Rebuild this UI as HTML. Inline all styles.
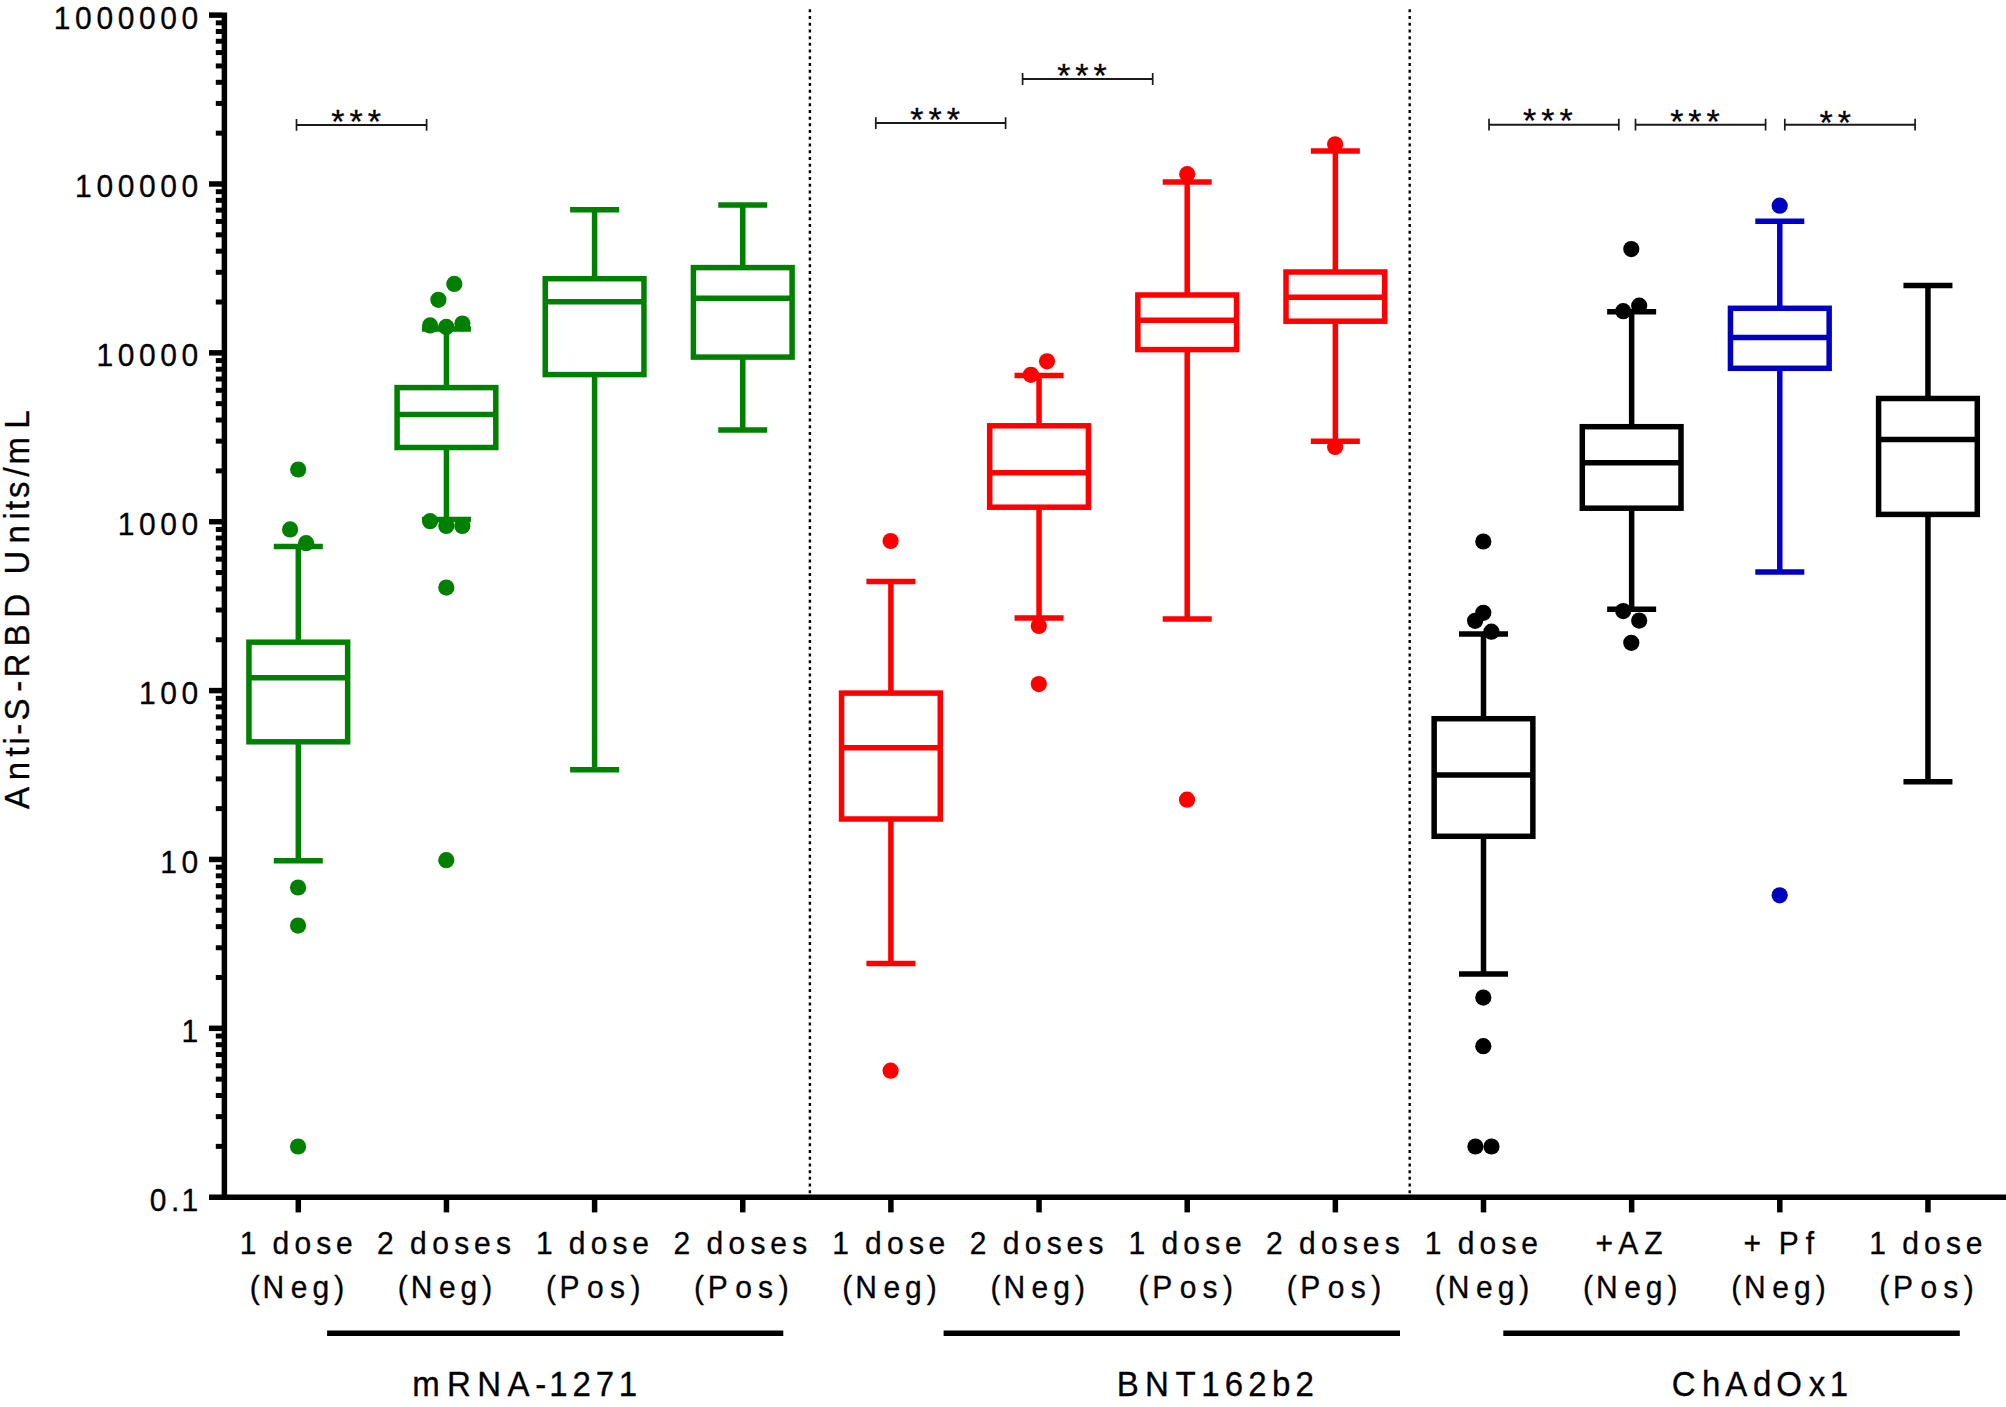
<!DOCTYPE html>
<html lang="en"><head><meta charset="utf-8"><title>Anti-S-RBD antibody levels by vaccine</title>
<style>html,body{margin:0;padding:0;background:#fff}svg{display:block}</style></head>
<body>
<svg width="2006" height="1407" viewBox="0 0 2006 1407" font-family="'Liberation Sans', Arial, sans-serif" fill="#000">
<style>text{stroke:#000;stroke-width:0.3px}</style>
<rect width="2006" height="1407" fill="#fff"/>
<line x1="809.9" y1="9.3" x2="809.9" y2="1193.6" stroke="#000" stroke-width="2.4" stroke-dasharray="3 3.71"/>
<line x1="1409.7" y1="9.3" x2="1409.7" y2="1193.6" stroke="#000" stroke-width="2.4" stroke-dasharray="3 3.71"/>
<g stroke="#000" stroke-width="5.5" fill="none">
<line x1="224.4" y1="12.4" x2="224.4" y2="1199.9"/>
<line x1="209" y1="1197.2" x2="2006" y2="1197.2"/>
<line x1="209" y1="1028.33" x2="222" y2="1028.33"/>
<line x1="209" y1="859.46" x2="222" y2="859.46"/>
<line x1="209" y1="690.59" x2="222" y2="690.59"/>
<line x1="209" y1="521.72" x2="222" y2="521.72"/>
<line x1="209" y1="352.85" x2="222" y2="352.85"/>
<line x1="209" y1="183.98" x2="222" y2="183.98"/>
<line x1="209" y1="15.11" x2="222" y2="15.11"/>
</g>
<g stroke="#000" stroke-width="5.0" fill="none">
<line x1="215.8" y1="1146.37" x2="222" y2="1146.37"/>
<line x1="215.8" y1="1116.63" x2="222" y2="1116.63"/>
<line x1="215.8" y1="1095.53" x2="222" y2="1095.53"/>
<line x1="215.8" y1="1079.16" x2="222" y2="1079.16"/>
<line x1="215.8" y1="1065.79" x2="222" y2="1065.79"/>
<line x1="215.8" y1="1054.49" x2="222" y2="1054.49"/>
<line x1="215.8" y1="1044.70" x2="222" y2="1044.70"/>
<line x1="215.8" y1="1036.06" x2="222" y2="1036.06"/>
<line x1="215.8" y1="977.50" x2="222" y2="977.50"/>
<line x1="215.8" y1="947.76" x2="222" y2="947.76"/>
<line x1="215.8" y1="926.66" x2="222" y2="926.66"/>
<line x1="215.8" y1="910.29" x2="222" y2="910.29"/>
<line x1="215.8" y1="896.92" x2="222" y2="896.92"/>
<line x1="215.8" y1="885.62" x2="222" y2="885.62"/>
<line x1="215.8" y1="875.83" x2="222" y2="875.83"/>
<line x1="215.8" y1="867.19" x2="222" y2="867.19"/>
<line x1="215.8" y1="808.63" x2="222" y2="808.63"/>
<line x1="215.8" y1="778.89" x2="222" y2="778.89"/>
<line x1="215.8" y1="757.79" x2="222" y2="757.79"/>
<line x1="215.8" y1="741.42" x2="222" y2="741.42"/>
<line x1="215.8" y1="728.05" x2="222" y2="728.05"/>
<line x1="215.8" y1="716.75" x2="222" y2="716.75"/>
<line x1="215.8" y1="706.96" x2="222" y2="706.96"/>
<line x1="215.8" y1="698.32" x2="222" y2="698.32"/>
<line x1="215.8" y1="639.76" x2="222" y2="639.76"/>
<line x1="215.8" y1="610.02" x2="222" y2="610.02"/>
<line x1="215.8" y1="588.92" x2="222" y2="588.92"/>
<line x1="215.8" y1="572.55" x2="222" y2="572.55"/>
<line x1="215.8" y1="559.18" x2="222" y2="559.18"/>
<line x1="215.8" y1="547.88" x2="222" y2="547.88"/>
<line x1="215.8" y1="538.09" x2="222" y2="538.09"/>
<line x1="215.8" y1="529.45" x2="222" y2="529.45"/>
<line x1="215.8" y1="470.89" x2="222" y2="470.89"/>
<line x1="215.8" y1="441.15" x2="222" y2="441.15"/>
<line x1="215.8" y1="420.05" x2="222" y2="420.05"/>
<line x1="215.8" y1="403.68" x2="222" y2="403.68"/>
<line x1="215.8" y1="390.31" x2="222" y2="390.31"/>
<line x1="215.8" y1="379.01" x2="222" y2="379.01"/>
<line x1="215.8" y1="369.22" x2="222" y2="369.22"/>
<line x1="215.8" y1="360.58" x2="222" y2="360.58"/>
<line x1="215.8" y1="302.02" x2="222" y2="302.02"/>
<line x1="215.8" y1="272.28" x2="222" y2="272.28"/>
<line x1="215.8" y1="251.18" x2="222" y2="251.18"/>
<line x1="215.8" y1="234.81" x2="222" y2="234.81"/>
<line x1="215.8" y1="221.44" x2="222" y2="221.44"/>
<line x1="215.8" y1="210.14" x2="222" y2="210.14"/>
<line x1="215.8" y1="200.35" x2="222" y2="200.35"/>
<line x1="215.8" y1="191.71" x2="222" y2="191.71"/>
<line x1="215.8" y1="133.15" x2="222" y2="133.15"/>
<line x1="215.8" y1="103.41" x2="222" y2="103.41"/>
<line x1="215.8" y1="82.31" x2="222" y2="82.31"/>
<line x1="215.8" y1="65.94" x2="222" y2="65.94"/>
<line x1="215.8" y1="52.57" x2="222" y2="52.57"/>
<line x1="215.8" y1="41.27" x2="222" y2="41.27"/>
<line x1="215.8" y1="31.48" x2="222" y2="31.48"/>
<line x1="215.8" y1="22.84" x2="222" y2="22.84"/>
</g>
<g stroke="#000" stroke-width="5.5">
<line x1="298.30" y1="1197" x2="298.30" y2="1212.4"/>
<line x1="446.45" y1="1197" x2="446.45" y2="1212.4"/>
<line x1="594.60" y1="1197" x2="594.60" y2="1212.4"/>
<line x1="742.75" y1="1197" x2="742.75" y2="1212.4"/>
<line x1="890.90" y1="1197" x2="890.90" y2="1212.4"/>
<line x1="1039.05" y1="1197" x2="1039.05" y2="1212.4"/>
<line x1="1187.20" y1="1197" x2="1187.20" y2="1212.4"/>
<line x1="1335.35" y1="1197" x2="1335.35" y2="1212.4"/>
<line x1="1483.50" y1="1197" x2="1483.50" y2="1212.4"/>
<line x1="1631.65" y1="1197" x2="1631.65" y2="1212.4"/>
<line x1="1779.80" y1="1197" x2="1779.80" y2="1212.4"/>
<line x1="1927.95" y1="1197" x2="1927.95" y2="1212.4"/>
</g>
<g font-size="30">
<text transform="translate(0 1210.70) scale(1 1.04)" x="149.67 170.97 181.60" y="0">0.1</text>
<text transform="translate(0 1041.83) scale(1 1.04)" x="181.60" y="0">1</text>
<text transform="translate(0 872.96) scale(1 1.04)" x="160.31 181.60" y="0">10</text>
<text transform="translate(0 704.09) scale(1 1.04)" x="139.01 160.31 181.60" y="0">100</text>
<text transform="translate(0 535.22) scale(1 1.04)" x="117.72 139.01 160.31 181.60" y="0">1000</text>
<text transform="translate(0 366.35) scale(1 1.04)" x="96.42 117.72 139.01 160.31 181.60" y="0">10000</text>
<text transform="translate(0 197.48) scale(1 1.04)" x="75.12 96.42 117.72 139.01 160.31 181.60" y="0">100000</text>
<text transform="translate(0 28.61) scale(1 1.04)" x="53.83 75.12 96.42 117.72 139.01 160.31 181.60" y="0">1000000</text>
</g>
<g font-size="30">
<text transform="translate(0 1254.10) scale(1 1.04)" x="239.66 261.57 272.51 294.41 316.31 336.00" y="0">1 dose</text>
<text transform="translate(0 1297.80) scale(1 1.04)" x="249.64 262.63 290.79 312.48 334.17" y="0">(Neg)</text>
<text transform="translate(0 1254.10) scale(1 1.04)" x="377.09 399.11 410.12 432.14 454.16 473.96 495.98" y="0">2 doses</text>
<text transform="translate(0 1297.80) scale(1 1.04)" x="397.79 410.78 438.94 460.63 482.32" y="0">(Neg)</text>
<text transform="translate(0 1254.10) scale(1 1.04)" x="535.96 557.87 568.81 590.71 612.61 632.30" y="0">1 dose</text>
<text transform="translate(0 1297.80) scale(1 1.04)" x="545.89 559.60 587.05 609.94 630.52" y="0">(Pos)</text>
<text transform="translate(0 1254.10) scale(1 1.04)" x="673.39 695.41 706.42 728.44 750.46 770.26 792.28" y="0">2 doses</text>
<text transform="translate(0 1297.80) scale(1 1.04)" x="694.04 707.75 735.20 758.09 778.67" y="0">(Pos)</text>
<text transform="translate(0 1254.10) scale(1 1.04)" x="832.26 854.17 865.11 887.01 908.91 928.60" y="0">1 dose</text>
<text transform="translate(0 1297.80) scale(1 1.04)" x="842.24 855.23 883.39 905.08 926.77" y="0">(Neg)</text>
<text transform="translate(0 1254.10) scale(1 1.04)" x="969.69 991.71 1002.72 1024.74 1046.76 1066.56 1088.58" y="0">2 doses</text>
<text transform="translate(0 1297.80) scale(1 1.04)" x="990.39 1003.38 1031.54 1053.23 1074.92" y="0">(Neg)</text>
<text transform="translate(0 1254.10) scale(1 1.04)" x="1128.56 1150.47 1161.41 1183.31 1205.21 1224.90" y="0">1 dose</text>
<text transform="translate(0 1297.80) scale(1 1.04)" x="1138.49 1152.20 1179.65 1202.54 1223.12" y="0">(Pos)</text>
<text transform="translate(0 1254.10) scale(1 1.04)" x="1265.99 1288.01 1299.02 1321.04 1343.06 1362.86 1384.88" y="0">2 doses</text>
<text transform="translate(0 1297.80) scale(1 1.04)" x="1286.64 1300.35 1327.80 1350.69 1371.27" y="0">(Pos)</text>
<text transform="translate(0 1254.10) scale(1 1.04)" x="1424.86 1446.77 1457.71 1479.61 1501.51 1521.20" y="0">1 dose</text>
<text transform="translate(0 1297.80) scale(1 1.04)" x="1434.84 1447.83 1475.99 1497.68 1519.37" y="0">(Neg)</text>
<text transform="translate(0 1254.10) scale(1 1.04)" x="1595.54 1618.31 1644.31" y="0">+AZ</text>
<text transform="translate(0 1297.80) scale(1 1.04)" x="1582.99 1595.98 1624.14 1645.83 1667.52" y="0">(Neg)</text>
<text transform="translate(0 1254.10) scale(1 1.04)" x="1743.54 1767.33 1778.65 1805.82" y="0">+ Pf</text>
<text transform="translate(0 1297.80) scale(1 1.04)" x="1731.14 1744.13 1772.29 1793.98 1815.67" y="0">(Neg)</text>
<text transform="translate(0 1254.10) scale(1 1.04)" x="1869.31 1891.22 1902.16 1924.06 1945.96 1965.65" y="0">1 dose</text>
<text transform="translate(0 1297.80) scale(1 1.04)" x="1879.24 1892.95 1920.40 1943.29 1963.87" y="0">(Pos)</text>
</g>
<g stroke="#000" stroke-width="5.4">
<line x1="327.1" y1="1333.3" x2="783.3" y2="1333.3"/>
<line x1="943.6" y1="1333.3" x2="1400.0" y2="1333.3"/>
<line x1="1503.3" y1="1333.3" x2="1959.8" y2="1333.3"/>
</g>
<g font-size="33">
<text transform="translate(0 1395.80) scale(1 1.04)" x="412.31 447.10 477.26 507.42 535.27 549.18 572.41 595.63 618.86" y="0">mRNA-1271</text>
<text transform="translate(0 1395.80) scale(1 1.04)" x="1116.69 1144.91 1175.46 1201.30 1224.83 1248.35 1271.88 1295.41" y="0">BNT162b2</text>
<text transform="translate(0 1395.80) scale(1 1.04)" x="1671.72 1701.92 1725.18 1753.07 1776.32 1808.85 1829.76" y="0">ChAdOx1</text>
</g>
<g font-size="33"><text transform="translate(29.2 809.0) rotate(-90) translate(0 0.00) scale(1 1.04)" x="-0.06 28.66 52.60 64.57 74.13 88.47 117.19 131.53 162.63 191.35 222.44 234.41 265.50 289.45 299.02 310.98 332.51 344.47 380.34" y="0">Anti-S-RBD Units/mL</text></g>
<g stroke="#1a1a1a" stroke-width="2" fill="none">
<path d="M296.5 124.9H426.6"/><path stroke-width="1.7" d="M296.5 119.0V130.8M426.6 119.0V130.8"/>
<path d="M875.8 123.1H1005.6"/><path stroke-width="1.7" d="M875.8 117.19999999999999V129.0M1005.6 117.19999999999999V129.0"/>
<path d="M1022.6 79.0H1152.7"/><path stroke-width="1.7" d="M1022.6 73.1V84.9M1152.7 73.1V84.9"/>
<path d="M1489.0 124.7H1618.8"/><path stroke-width="1.7" d="M1489.0 118.8V130.6M1618.8 118.8V130.6"/>
<path d="M1635.5 124.7H1765.6"/><path stroke-width="1.7" d="M1635.5 118.8V130.6M1765.6 118.8V130.6"/>
<path d="M1784.8 124.7H1915.1"/><path stroke-width="1.7" d="M1784.8 118.8V130.6M1915.1 118.8V130.6"/>
</g>
<g font-size="34" letter-spacing="5" text-anchor="middle" stroke="#000" stroke-width="0.4">
<text x="358.7" y="133.4">***</text>
<text x="937.7" y="131.4">***</text>
<text x="1084.5" y="87.3">***</text>
<text x="1550.4" y="131.5">***</text>
<text x="1697.5" y="132.6">***</text>
<text x="1837.7" y="133.6">**</text>
</g>
<g stroke="#008000" fill="none" stroke-width="5.5">
<path stroke-width="5.5" d="M298.30 546.4V642.2M298.30 741.8V860.8"/>
<path d="M273.80 546.4H322.80M273.80 860.8H322.80"/>
<rect x="248.95" y="642.2" width="98.70" height="99.60" fill="#fff"/>
<line x1="248.95" y1="677.8" x2="347.65" y2="677.8"/>
</g>
<g fill="#008000"><circle cx="298.2" cy="469.5" r="8.1"/><circle cx="290.1" cy="529.4" r="8.1"/><circle cx="306.1" cy="543.2" r="8.1"/><circle cx="298.05" cy="887.5" r="8.1"/><circle cx="298.05" cy="925.6" r="8.1"/><circle cx="298.05" cy="1146.5" r="8.1"/></g>
<g stroke="#008000" fill="none" stroke-width="5.5">
<path stroke-width="5.5" d="M446.45 329.0V387.6M446.45 447.5V519.5"/>
<path d="M421.95 329.0H470.95M421.95 519.5H470.95"/>
<rect x="397.10" y="387.6" width="98.70" height="59.90" fill="#fff"/>
<line x1="397.10" y1="414.5" x2="495.80" y2="414.5"/>
</g>
<g fill="#008000"><circle cx="454.3" cy="283.9" r="8.1"/><circle cx="438.4" cy="299.8" r="8.1"/><circle cx="430.1" cy="325.4" r="8.1"/><circle cx="446.3" cy="326.9" r="8.1"/><circle cx="462.4" cy="323.6" r="8.1"/><circle cx="430.1" cy="521.2" r="8.1"/><circle cx="446.3" cy="526" r="8.1"/><circle cx="462.3" cy="526" r="8.1"/><circle cx="446.3" cy="587.6" r="8.1"/><circle cx="446.3" cy="860.2" r="8.1"/></g>
<g stroke="#008000" fill="none" stroke-width="5.5">
<path stroke-width="5.5" d="M594.60 209.8V278.7M594.60 374.6V769.8"/>
<path d="M570.10 209.8H619.10M570.10 769.8H619.10"/>
<rect x="545.25" y="278.7" width="98.70" height="95.90" fill="#fff"/>
<line x1="545.25" y1="301.7" x2="643.95" y2="301.7"/>
</g>
<g stroke="#008000" fill="none" stroke-width="5.5">
<path stroke-width="5.5" d="M742.75 204.9V267.6M742.75 357.1V430.1"/>
<path d="M718.25 204.9H767.25M718.25 430.1H767.25"/>
<rect x="693.40" y="267.6" width="98.70" height="89.50" fill="#fff"/>
<line x1="693.40" y1="298.3" x2="792.10" y2="298.3"/>
</g>
<g stroke="#ff0000" fill="none" stroke-width="5.5">
<path stroke-width="5.5" d="M890.90 581.5V693.1M890.90 819.0V963.5"/>
<path d="M866.40 581.5H915.40M866.40 963.5H915.40"/>
<rect x="841.55" y="693.1" width="98.70" height="125.90" fill="#fff"/>
<line x1="841.55" y1="747.7" x2="940.25" y2="747.7"/>
</g>
<g fill="#ff0000"><circle cx="890.6" cy="541.0" r="8.1"/><circle cx="890.6" cy="1070.7" r="8.1"/></g>
<g stroke="#ff0000" fill="none" stroke-width="5.5">
<path stroke-width="5.5" d="M1039.05 375.5V425.8M1039.05 507.2V617.9"/>
<path d="M1014.55 375.5H1063.55M1014.55 617.9H1063.55"/>
<rect x="989.70" y="425.8" width="98.70" height="81.40" fill="#fff"/>
<line x1="989.70" y1="472.7" x2="1088.40" y2="472.7"/>
</g>
<g fill="#ff0000"><circle cx="1047.0" cy="361.3" r="8.1"/><circle cx="1030.9" cy="374.8" r="8.1"/><circle cx="1038.8" cy="626.0" r="8.1"/><circle cx="1038.8" cy="684.1" r="8.1"/></g>
<g stroke="#ff0000" fill="none" stroke-width="5.5">
<path stroke-width="5.5" d="M1187.20 182.0V295.0M1187.20 349.6V619.0"/>
<path d="M1162.70 182.0H1211.70M1162.70 619.0H1211.70"/>
<rect x="1137.85" y="295.0" width="98.70" height="54.60" fill="#fff"/>
<line x1="1137.85" y1="320.2" x2="1236.55" y2="320.2"/>
</g>
<g fill="#ff0000"><circle cx="1187.2" cy="174.2" r="8.1"/><circle cx="1187.0" cy="799.7" r="8.1"/></g>
<g stroke="#ff0000" fill="none" stroke-width="5.5">
<path stroke-width="5.5" d="M1335.35 151.0V272.0M1335.35 321.2V441.2"/>
<path d="M1310.85 151.0H1359.85M1310.85 441.2H1359.85"/>
<rect x="1286.00" y="272.0" width="98.70" height="49.20" fill="#fff"/>
<line x1="1286.00" y1="297.3" x2="1384.70" y2="297.3"/>
</g>
<g fill="#ff0000"><circle cx="1335.1" cy="144.3" r="8.1"/><circle cx="1335.1" cy="446.9" r="8.1"/></g>
<g stroke="#000000" fill="none" stroke-width="5.5">
<path stroke-width="5.5" d="M1483.50 633.9V718.7M1483.50 836.3V973.9"/>
<path d="M1459.00 633.9H1508.00M1459.00 973.9H1508.00"/>
<rect x="1434.15" y="718.7" width="98.70" height="117.60" fill="#fff"/>
<line x1="1434.15" y1="774.9" x2="1532.85" y2="774.9"/>
</g>
<g fill="#000000"><circle cx="1483.3" cy="541.5" r="8.1"/><circle cx="1483.3" cy="612.8" r="8.1"/><circle cx="1475.1" cy="620.8" r="8.1"/><circle cx="1491.4" cy="631.7" r="8.1"/><circle cx="1483.3" cy="997.6" r="8.1"/><circle cx="1483.3" cy="1046.2" r="8.1"/><circle cx="1475.4" cy="1146.5" r="8.1"/><circle cx="1491.5" cy="1146.5" r="8.1"/></g>
<g stroke="#000000" fill="none" stroke-width="5.5">
<path stroke-width="5.5" d="M1631.65 311.8V426.7M1631.65 508.2V609.3"/>
<path d="M1607.15 311.8H1656.15M1607.15 609.3H1656.15"/>
<rect x="1582.30" y="426.7" width="98.70" height="81.50" fill="#fff"/>
<line x1="1582.30" y1="462.8" x2="1681.00" y2="462.8"/>
</g>
<g fill="#000000"><circle cx="1631.3" cy="249.1" r="8.1"/><circle cx="1639.2" cy="305.7" r="8.1"/><circle cx="1623.2" cy="311.2" r="8.1"/><circle cx="1623.2" cy="611.1" r="8.1"/><circle cx="1639.2" cy="620.6" r="8.1"/><circle cx="1631.3" cy="642.8" r="8.1"/></g>
<g stroke="#0000c0" fill="none" stroke-width="5.5">
<path stroke-width="5.5" d="M1779.80 221.2V308.3M1779.80 368.3V572.0"/>
<path d="M1755.30 221.2H1804.30M1755.30 572.0H1804.30"/>
<rect x="1730.45" y="308.3" width="98.70" height="60.00" fill="#fff"/>
<line x1="1730.45" y1="337.6" x2="1829.15" y2="337.6"/>
</g>
<g fill="#0000c0"><circle cx="1779.7" cy="205.7" r="8.1"/><circle cx="1779.7" cy="895.3" r="8.1"/></g>
<g stroke="#000000" fill="none" stroke-width="5.5">
<path stroke-width="5.5" d="M1927.95 285.4V398.5M1927.95 514.4V781.7"/>
<path d="M1903.45 285.4H1952.45M1903.45 781.7H1952.45"/>
<rect x="1878.60" y="398.5" width="98.70" height="115.90" fill="#fff"/>
<line x1="1878.60" y1="439.5" x2="1977.30" y2="439.5"/>
</g>
</svg>
</body></html>
